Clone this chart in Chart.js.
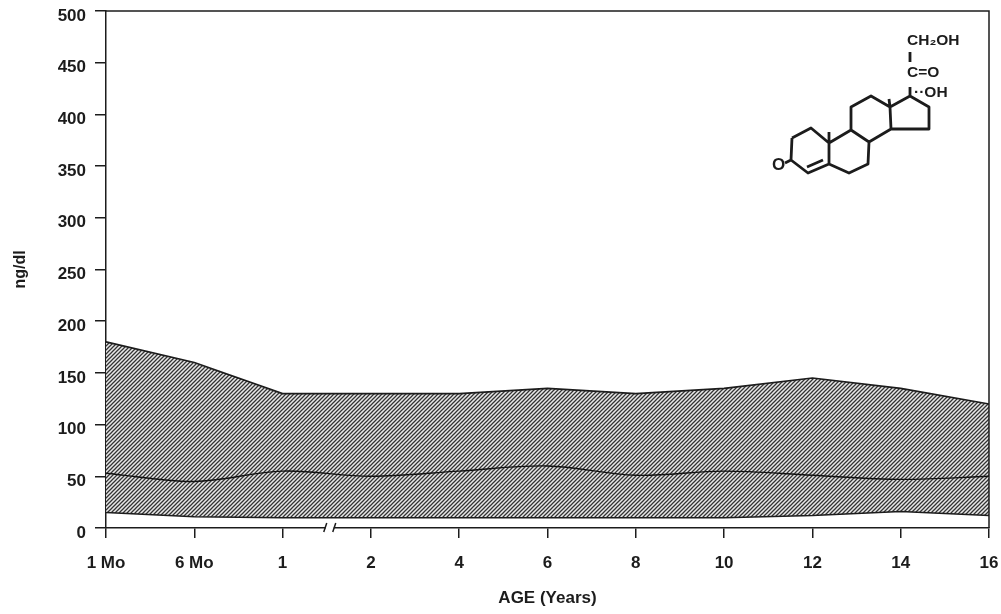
<!DOCTYPE html>
<html>
<head>
<meta charset="utf-8">
<style>
  html, body { margin: 0; padding: 0; background: #fff; }
  #wrap { width: 1001px; height: 614px; }
</style>
</head>
<body>
<div id="wrap"><canvas id="cortisolChart" width="1001" height="614"></canvas></div>
<script src="https://cdn.jsdelivr.net/npm/chart.js@4"></script>
<script>
var ageLabels = ["1 Mo", "6 Mo", "1", "2", "4", "6", "8", "10", "12", "14", "16"];
var upperValues = [180, 160, 130, 130, 130, 135, 130, 135, 145, 135, 120];
var meanValues = [53, 45, 55, 50, 55, 60, 51, 55, 51, 47, 50];
var lowerValues = [15, 11, 10, 10, 10, 10, 10, 10, 12, 16, 12];
var yTicks = [0, 50, 100, 150, 200, 250, 300, 350, 400, 450, 500];

var INK = "#1c1c1c";
var FONT = "'Liberation Sans', Arial, sans-serif";

// diagonal hatch for the shaded range
function makeHatch() {
    var size = 4;
    var tile = document.createElement("canvas");
    tile.width = size;
    tile.height = size;
    var c = tile.getContext("2d");
    c.fillStyle = "#e8e8e8";
    c.fillRect(0, 0, size, size);
    c.strokeStyle = "#333";
    c.lineWidth = 1.25;
    c.beginPath();
    c.moveTo(-1, 1); c.lineTo(1, -1);
    c.moveTo(0, size); c.lineTo(size, 0);
    c.moveTo(size - 1, size + 1); c.lineTo(size + 1, size - 1);
    c.stroke();
    return c.createPattern(tile, "repeat");
}

// top and right edges of the plot frame
var framePlugin = {
    id: "frame",
    afterDraw: function (chart) {
        var a = chart.chartArea, ctx = chart.ctx;
        ctx.save();
        ctx.strokeStyle = INK;
        ctx.lineWidth = 1.5;
        ctx.beginPath();
        ctx.moveTo(a.left, a.top);
        ctx.lineTo(a.right, a.top);
        ctx.lineTo(a.right, a.bottom);
        ctx.stroke();
        ctx.restore();
    }
};

// the "//" break in the age axis between 1 and 2
var axisBreakPlugin = {
    id: "axisBreak",
    afterDraw: function (chart) {
        var x = chart.scales.x, ctx = chart.ctx;
        var mid = (x.getPixelForValue(2) + x.getPixelForValue(3)) / 2 + 3;
        var y = chart.chartArea.bottom;
        ctx.save();
        ctx.fillStyle = "#fff";
        ctx.fillRect(mid - 4, y - 3, 8, 6);
        ctx.strokeStyle = INK;
        ctx.lineWidth = 1.5;
        ctx.beginPath();
        ctx.moveTo(mid - 6, y + 4); ctx.lineTo(mid - 3, y - 5);
        ctx.moveTo(mid + 3, y + 4); ctx.lineTo(mid + 6, y - 5);
        ctx.stroke();
        ctx.restore();
    }
};

// steroid structure inset, top right of the plot
var moleculePlugin = {
    id: "molecule",
    afterDraw: function (chart) {
        var ctx = chart.ctx;
        var paths = [
            [[792, 138], [811, 128], [829, 143], [829, 164], [808, 173], [791, 160], [792, 138]],
            [[829, 143], [851, 130], [869, 142], [868, 164], [849, 173], [829, 164]],
            [[851, 130], [851, 107], [871, 96], [890, 107], [891, 129], [869, 142]],
            [[890, 107], [910, 96], [929, 107], [929, 129], [891, 129], [890, 107]]
        ];
        ctx.save();
        ctx.strokeStyle = INK;
        ctx.lineWidth = 2.8;
        ctx.lineJoin = "round";
        ctx.beginPath();
        paths.forEach(function (p) {
            p.forEach(function (pt, i) {
                if (i === 0) ctx.moveTo(pt[0], pt[1]);
                else ctx.lineTo(pt[0], pt[1]);
            });
        });
        // double bond, angular methyls, side chain stubs
        ctx.moveTo(807, 167); ctx.lineTo(823, 160);
        ctx.moveTo(829, 143); ctx.lineTo(829, 132);
        ctx.moveTo(890, 107); ctx.lineTo(889, 99);
        ctx.moveTo(910, 96); ctx.lineTo(910, 87);
        ctx.moveTo(785, 163); ctx.lineTo(791, 160);
        ctx.moveTo(910, 52); ctx.lineTo(910, 62);
        ctx.stroke();
        ctx.fillStyle = INK;
        ctx.font = "bold 15.5px " + FONT;
        ctx.textBaseline = "middle";
        ctx.textAlign = "left";
        ctx.fillText("CH\u2082OH", 907, 41);
        ctx.fillText("C=O", 907, 73);
        ctx.fillText("\u00b7\u00b7OH", 914, 93);
        ctx.font = "bold 17px " + FONT;
        ctx.fillText("O", 772, 165);
        ctx.restore();
    }
};

new Chart(document.getElementById("cortisolChart").getContext("2d"), {
    type: "line",
    data: {
        labels: ageLabels,
        datasets: [
            {
                label: "Upper",
                data: upperValues,
                borderColor: INK,
                borderWidth: 1.6,
                backgroundColor: makeHatch(),
                fill: 2,
                pointRadius: 0,
                tension: 0
            },
            {
                label: "Mean",
                data: meanValues,
                borderColor: "#111",
                borderWidth: 1.4,
                fill: false,
                pointRadius: 0,
                tension: 0.35
            },
            {
                label: "Lower",
                data: lowerValues,
                borderColor: INK,
                borderWidth: 1.5,
                fill: false,
                pointRadius: 0,
                tension: 0
            }
        ]
    },
    options: {
        responsive: false,
        animation: false,
        layout: { padding: { top: 11, right: 12, left: 0, bottom: 0 } },
        plugins: {
            legend: { display: false },
            tooltip: { enabled: false },
            // keep the hatch under the mean and lower lines
            filler: { drawTime: "beforeDatasetsDraw" }
        },
        scales: {
            x: {
                type: "category",
                offset: false,
                afterFit: function (s) {
                    s.height = 86;
                    s.paddingLeft = 0;
                    s.paddingRight = 0;
                },
                grid: { drawOnChartArea: false, tickLength: 10, color: INK, lineWidth: 1.5 },
                border: { color: INK, width: 1.5 },
                ticks: {
                    color: INK,
                    padding: 15,
                    maxRotation: 0,
                    autoSkip: false,
                    font: { family: FONT, size: 17, weight: "bold" }
                },
                title: {
                    display: true,
                    text: "AGE (Years)",
                    color: INK,
                    padding: { top: 0, bottom: 5 },
                    font: { family: FONT, size: 17, weight: "bold" }
                }
            },
            y: {
                min: 0,
                max: 500,
                afterFit: function (s) {
                    s.width = 106;
                    s.paddingTop = 0;
                    s.paddingBottom = 0;
                },
                afterBuildTicks: function (s) {
                    s.ticks = yTicks.map(function (v) { return { value: v }; });
                },
                grid: { drawOnChartArea: false, tickLength: 11, color: INK, lineWidth: 1.5 },
                border: { color: INK, width: 1.5 },
                ticks: {
                    color: INK,
                    padding: 9,
                    labelOffset: 5,
                    font: { family: FONT, size: 17, weight: "bold" }
                },
                title: {
                    display: true,
                    text: "ng/dl",
                    color: INK,
                    padding: { top: 11, bottom: 0 },
                    font: { family: FONT, size: 16, weight: "bold" }
                }
            }
        }
    },
    plugins: [framePlugin, axisBreakPlugin, moleculePlugin]
});
</script>
</body>
</html>
